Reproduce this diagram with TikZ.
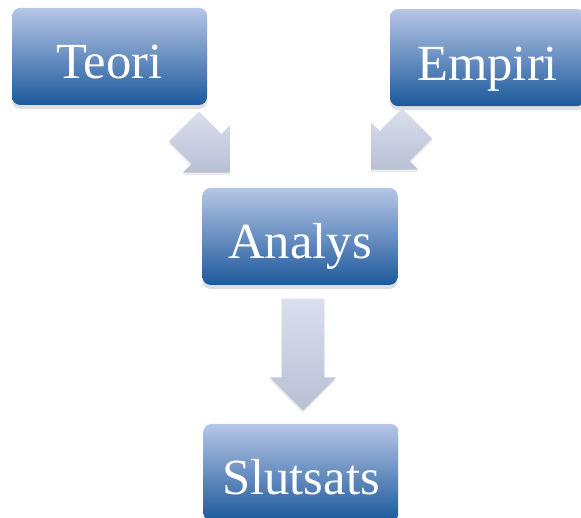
\documentclass[tikz,border=0pt]{standalone}
\usepackage{fontspec}
\setmainfont{Liberation Serif}
\usetikzlibrary{shapes.arrows}
\usetikzlibrary{shadows}

\definecolor{boxtop}{RGB}{182,198,230}
\definecolor{boxbottom}{RGB}{28,89,156}
\definecolor{arrowlight}{RGB}{218,223,238}
\definecolor{arrowdark}{RGB}{184,192,212}

\begin{document}
\begin{tikzpicture}[every node/.style={inner sep=0pt},
		    stepbox/.style={rounded corners=0.2cm, minimum width=4.875cm,
		      minimum height=2.425cm, top color=boxtop, bottom color=boxbottom,
		      text=white, font=\fontsize{36}{40}\selectfont,
		      text height=32pt, text depth=0pt,
		      drop shadow={opacity=0.25, shadow xshift=0cm, shadow yshift=-0.1cm}},
		    flow/.style={single arrow, single arrow head extend=0.3cm,
		      inner xsep=0pt, inner ysep=0.525cm, rotate=#1,
		      top color=arrowlight, bottom color=arrowdark,
		      drop shadow={opacity=0.15, shadow xshift=0cm, shadow yshift=-0.06cm}}]

\useasboundingbox (0,0) rectangle (14.525,-12.925);

\node[stepbox] (teori) at (2.74,-1.41) {Teori};
\node[stepbox] (empiri) at (12.19,-1.44) {Empiri};
\node[stepbox] (analys) at (7.5,-5.91) {Analys};
\node[stepbox] (slutsats) at (7.525,-11.81) {Slutsats};

% arrows between the boxes
\node[flow=-45, minimum height=1.63cm] (teori-analys) at (4.985,-3.55) {};
\node[flow=-135, minimum height=1.63cm] (empiri-analys) at (10.04,-3.475) {};
\node[flow=-90, minimum height=2.8cm] (analys-slutsats) at (7.575,-8.6) {};
\end{tikzpicture}
\end{document}
